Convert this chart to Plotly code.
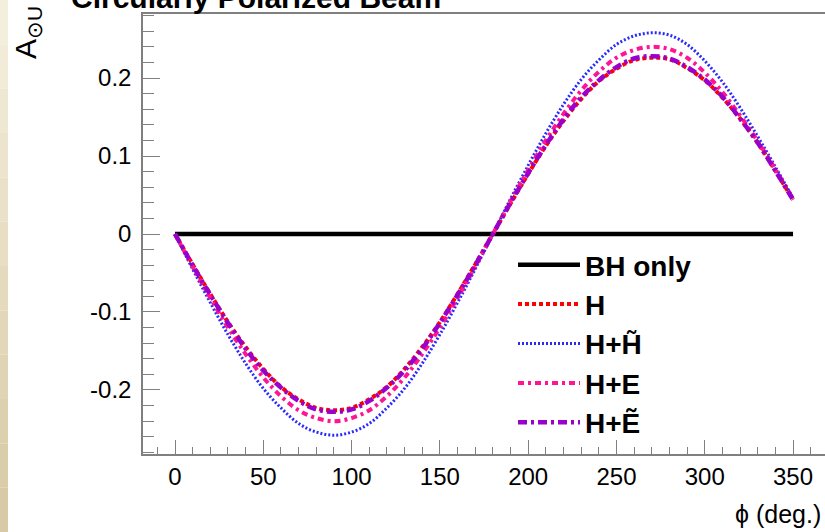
import plotly.graph_objects as go

phi = [0, 10, 20, 30, 40, 50, 60, 70, 80, 90, 100, 110, 120, 130, 140, 150, 160, 170,
       180, 190, 200, 210, 220, 230, 240, 250, 260, 270, 280, 290, 300, 310, 320, 330, 340, 350]

bh_only = [0.0] * len(phi)

a_h = [0.000, -0.039, -0.077, -0.113, -0.145, -0.173, -0.196, -0.212, -0.223, -0.226,
       -0.223, -0.212, -0.196, -0.173, -0.145, -0.113, -0.077, -0.039,
       0.000, 0.039, 0.077, 0.113, 0.145, 0.173, 0.196, 0.212, 0.223, 0.226,
       0.224, 0.213, 0.197, 0.175, 0.148, 0.117, 0.081, 0.044]

a_h_htilde = [0.000, -0.045, -0.088, -0.129, -0.166, -0.198, -0.223, -0.243, -0.254, -0.258,
              -0.254, -0.243, -0.223, -0.198, -0.166, -0.129, -0.088, -0.045,
              0.000, 0.045, 0.088, 0.129, 0.166, 0.198, 0.223, 0.243, 0.254, 0.258,
              0.255, 0.243, 0.222, 0.195, 0.162, 0.125, 0.086, 0.046]

a_h_e = [0.000, -0.042, -0.082, -0.120, -0.154, -0.184, -0.208, -0.226, -0.236, -0.240,
         -0.236, -0.226, -0.208, -0.184, -0.154, -0.120, -0.082, -0.042,
         0.000, 0.042, 0.082, 0.120, 0.154, 0.184, 0.208, 0.226, 0.236, 0.240,
         0.237, 0.226, 0.207, 0.182, 0.152, 0.119, 0.083, 0.045]

a_h_etilde = [0.000, -0.040, -0.078, -0.114, -0.147, -0.175, -0.197, -0.214, -0.225, -0.228,
              -0.225, -0.214, -0.197, -0.175, -0.147, -0.114, -0.078, -0.040,
              0.000, 0.040, 0.078, 0.114, 0.147, 0.175, 0.197, 0.214, 0.225, 0.228,
              0.225, 0.214, 0.198, 0.176, 0.148, 0.117, 0.081, 0.044]

series = [
    ("BH only", bh_only, "#000000", "solid", 4.5),
    ("H", a_h, "#ff0000", "4px,3px", 4),
    ("H+H\u0303", a_h_htilde, "#2a2aff", "2px,2px", 3),
    ("H+E", a_h_e, "#ff1493", "6px,4px,3px,4px", 4),
    ("H+\u1EBC", a_h_etilde, "#9900cc", "9px,4px,3px,4px", 4.5),
]

fig = go.Figure()
for name, vals, color, dash, width in series:
    fig.add_trace(go.Scatter(
        x=phi, y=vals, mode="lines", name=name,
        line=dict(color=color, dash=dash, width=width, shape="spline"),
    ))

font = "Arial, Liberation Sans, sans-serif"
W, H = 825, 532
ml, mr, mt, mb = 143, 0, 14, 78
pw, ph = W - ml - mr, H - mt - mb

shapes = []
n = 12
top_c = (244, 239, 220)
bot_c = (216, 202, 166)
for i in range(n):
    t = i / (n - 1)
    c = tuple(int(top_c[k] + (bot_c[k] - top_c[k]) * t) for k in range(3))
    shapes.append(dict(
        type="rect", xref="paper", yref="paper", layer="below",
        x0=-ml / pw, x1=(8 - ml) / pw,
        y0=1 + mt / ph - (i + 1) * (H / n) / ph, y1=1 + mt / ph - i * (H / n) / ph,
        line=dict(width=0), fillcolor="rgb(%d,%d,%d)" % c,
    ))

fig.update_layout(
    width=W, height=H,
    margin=dict(l=ml, r=mr, t=mt, b=mb, pad=0),
    paper_bgcolor="white", plot_bgcolor="white",
    font=dict(family=font, color="black"),
    showlegend=True,
    legend=dict(
        x=(513 - ml) / pw, y=(H - mb - 240) / ph, xanchor="left", yanchor="top",
        font=dict(size=28, family=font, color="black", weight="bold"),
        bgcolor="rgba(0,0,0,0)", tracegroupgap=4, itemwidth=62,
    ),
    shapes=shapes,
    xaxis=dict(
        range=[-18.12, 368.1], showgrid=False, zeroline=False,
        showline=True, linecolor="#808080", linewidth=1.5, mirror=True,
        ticks="inside", ticklen=14, tickcolor="#808080", tickwidth=1.2,
        tickvals=[0, 50, 100, 150, 200, 250, 300, 350],
        tickfont=dict(size=24, family=font, color="black"),
        minor=dict(dtick=10, tick0=0, ticks="inside", ticklen=7, tickcolor="#808080", tickwidth=1),
    ),
    yaxis=dict(
        range=[-0.2821, 0.2821], showgrid=False, zeroline=False,
        showline=True, linecolor="#808080", linewidth=1.5, mirror=False,
        ticks="inside", ticklen=17, tickcolor="#808080", tickwidth=1.2,
        tickvals=[-0.2, -0.1, 0, 0.1, 0.2], ticktext=["-0.2", "-0.1", "0", "0.1", "0.2"],
        tickfont=dict(size=24, family=font, color="black"),
        minor=dict(dtick=0.02, tick0=0, ticks="inside", ticklen=11, tickcolor="#808080", tickwidth=1),
        ticklabelstandoff=5,
    ),
    annotations=[
        dict(text="<b>Circularly Polarized Beam</b>", xref="paper", yref="paper",
             x=(256 - ml) / pw, y=1, xanchor="center", yanchor="bottom", yshift=-2,
             showarrow=False, font=dict(size=30, family=font, color="black")),
        dict(text="A<sub>\u2299U</sub>", xref="paper", yref="paper",
             x=(27 - ml) / pw, y=1 - (33 - mt) / ph, xanchor="center", yanchor="middle",
             textangle=-90, showarrow=False, font=dict(size=30, family=font, color="black")),
        dict(text="\u03d5 (deg.)", xref="paper", yref="paper",
             x=1, y=-(514 - (H - mb)) / ph, xanchor="right", yanchor="middle", xshift=-2,
             showarrow=False, font=dict(size=25, family=font, color="black")),
    ],
)

fig.write_html("out.html", config={"displayModeBar": False},
               post_script="document.body.style.margin='0px';document.body.style.padding='0px';")
